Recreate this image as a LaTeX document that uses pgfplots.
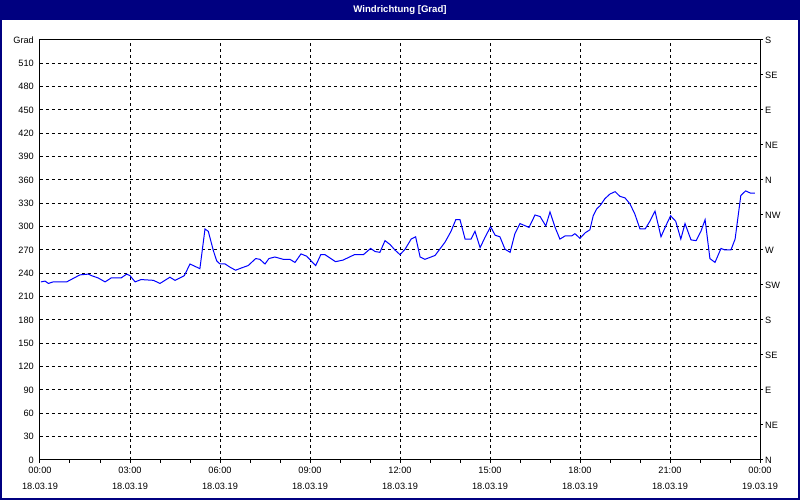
\documentclass[border=0pt]{standalone}
\usepackage{fontspec}
\setmainfont{Liberation Sans}
\usepackage{pgfplots}
\pgfplotsset{compat=1.18}
\definecolor{winnavy}{RGB}{0,0,128}
\definecolor{lineblue}{RGB}{0,0,255}

% hours since 18.03.19 00:00, wind direction in degrees
\pgfplotstableread{
t v
0.03 229
0.17 230
0.28 227
0.44 229
0.89 229
1.33 238
1.61 239
1.72 237
1.94 234
2.17 229
2.37 234
2.70 234
2.89 239
3.00 237
3.17 229
3.37 232
3.78 231
4.00 227
4.33 235
4.50 231
4.81 237
5.00 252
5.33 246
5.50 297
5.61 294
5.78 269
5.89 256
6.00 252
6.17 252
6.33 248
6.52 244
6.72 247
6.94 250
7.19 259
7.33 258
7.50 252
7.63 259
7.83 261
8.11 258
8.33 258
8.50 254
8.70 265
8.89 262
9.06 255
9.19 250
9.36 264
9.50 264
9.85 255
10.10 257
10.48 264
10.78 264
11.02 272
11.17 268
11.33 267
11.50 282
11.67 277
11.83 270
12.00 264
12.17 271
12.37 284
12.52 287
12.67 261
12.83 258
13.17 263
13.50 280
13.70 294
13.86 309
14.00 309
14.17 284
14.37 284
14.50 294
14.67 273
14.83 286
15.02 300
15.17 289
15.33 287
15.50 271
15.67 267
15.83 291
16.00 304
16.30 299
16.50 315
16.67 313
16.86 301
17.00 319
17.17 299
17.33 284
17.50 288
17.72 288
17.83 291
18.00 285
18.17 292
18.33 296
18.44 314
18.56 323
18.67 327
18.83 336
19.00 342
19.17 345
19.33 339
19.50 337
19.67 329
19.83 316
20.00 297
20.17 297
20.33 307
20.50 320
20.70 287
20.86 301
21.02 314
21.19 307
21.36 284
21.50 304
21.70 283
21.87 282
22.03 294
22.17 309
22.33 259
22.50 254
22.70 272
22.83 270
23.03 270
23.17 284
23.36 340
23.52 346
23.69 343
23.83 343
}\winddata

\begin{document}
\begin{tikzpicture}[x=1pt,y=1pt]
\useasboundingbox (0,0) rectangle (800,500);
\fill[white] (0,0) rectangle (800,500);

\begin{axis}[
  at={(40pt,40pt)}, anchor=south west,
  scale only axis, width=720pt, height=420pt,
  xmin=0, xmax=24, ymin=0, ymax=540,
  xtick={0,3,...,24}, minor xtick={0,1,...,24},
  xticklabels={00:00\\18.03.19, 03:00\\18.03.19, 06:00\\18.03.19,
    09:00\\18.03.19, 12:00\\18.03.19, 15:00\\18.03.19,
    18:00\\18.03.19, 21:00\\18.03.19, 00:00\\19.03.19},
  ytick={0,30,...,540},
  yticklabels={0,30,60,90,120,150,180,210,240,270,300,330,360,390,420,450,480,510,\raisebox{-4pt}{Grad}},
  xtick pos=left, tick align=outside,
  major tick length=3pt, minor tick length=3pt,
  ytick style={draw=none},
  xtick style={black, line width=1pt},
  xmajorgrids, ymajorgrids,
  major grid style={black, line width=1pt, dash pattern=on 3pt off 3pt},
  axis line style={black, line width=1pt},
  yticklabel style={font=\fontsize{9.2}{11}\selectfont, anchor=east, inner sep=0pt, xshift=-3pt},
  xticklabel style={font=\fontsize{9.2}{16}\selectfont, align=center, anchor=north, inner sep=0pt, yshift=-4pt},
]
\addplot[lineblue, line width=1pt, no markers, sharp plot] table[x=t, y=v] {\winddata};
\end{axis}

\begin{axis}[
  at={(40pt,40pt)}, anchor=south west,
  scale only axis, width=720pt, height=420pt,
  xmin=0, xmax=24, ymin=0, ymax=540,
  axis x line=none, axis y line*=right,
  ytick={0,45,...,540},
  yticklabels={N,NE,E,SE,S,SW,W,NW,N,NE,E,SE,S},
  tick align=outside, major tick length=3pt,
  ytick style={black, line width=1pt},
  axis line style={black, line width=1pt, -},
  yticklabel style={font=\fontsize{9.2}{11}\selectfont, anchor=west, inner sep=0pt, xshift=2pt},
]
\addplot[draw=none] coordinates {(0,0)};
\end{axis}

\fill[winnavy] (0,480) rectangle (800,500);
\node[white, font=\bfseries\fontsize{9.6}{11}\selectfont] at (400,490) {Windrichtung [Grad]};
\draw[winnavy, line width=2pt] (1,1) rectangle (799,499);
\end{tikzpicture}
\end{document}
